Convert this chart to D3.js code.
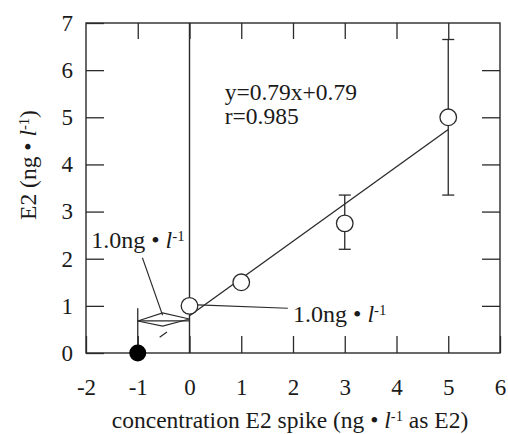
<!DOCTYPE html>
<html>
<head>
<meta charset="utf-8">
<script src="https://cdn.jsdelivr.net/npm/d3@7"></script>
<style>
body { margin: 0; background: #fff; }
svg text { font-family: "Liberation Serif", "Times New Roman", Times, "DejaVu Serif", serif; fill: #1a1a1a; }
</style>
</head>
<body>
<div id="chart"></div>
<script>
// standard addition: measured E2 against spiked E2
const spikeLevels = [0, 1, 3, 5];
const measuredE2 = [1.0, 1.5, 2.75, 5.0];
const errLow  = [null, null, 2.2, 3.35];
const errHigh = [null, null, 3.35, 6.65];
const xTicks = [-2, -1, 0, 1, 2, 3, 4, 5, 6];
const yTicks = [0, 1, 2, 3, 4, 5, 6, 7];
const slope = 0.79, intercept = 0.79;
const rValue = 0.985;
const estimated = [{x: -1, y: 0}];
// little diamond marking the 1.0 ng/l gap between -1 and 0
const gapMarker = [[-1, 0.68], [-0.52, 0.85], [0, 0.72], [-0.52, 0.57], [-1, 0.68]];

const serif = "'Liberation Serif', 'Times New Roman', Times, 'DejaVu Serif', serif";

const margin = {top: 23, right: 8, bottom: 81, left: 86};
const width = 508 - margin.left - margin.right;
const height = 434 - margin.top - margin.bottom;

const svg = d3.select("#chart").append("svg")
  .attr("width", 508)
  .attr("height", 434)
  .attr("font-family", serif);

const g = svg.append("g")
  .attr("transform", `translate(${margin.left},${margin.top})`);

const x = d3.scaleLinear().domain([-2, 6]).range([0, width]);
const y = d3.scaleLinear().domain([0, 7]).range([height, 0]);

const ink = "#2a2a2a";

// axes, ticks pointing inward on all four sides
const axBottom = g.append("g")
  .attr("transform", `translate(0,${height})`)
  .call(d3.axisBottom(x).tickValues(xTicks).tickSize(-17).tickPadding(26).tickFormat(d => String(d)));
const axTop = g.append("g")
  .call(d3.axisTop(x).tickValues(xTicks.slice(1, -1)).tickSize(-16).tickFormat(""));
const axLeft = g.append("g")
  .call(d3.axisLeft(y).tickValues(yTicks).tickSize(-18).tickPadding(13).tickFormat(d => String(d)));
const axRight = g.append("g")
  .attr("transform", `translate(${width},0)`)
  .call(d3.axisRight(y).tickValues(yTicks.slice(1, -1)).tickSize(-18).tickFormat(""));

[axBottom, axTop, axLeft, axRight].forEach(a => {
  a.attr("font-size", 23).attr("font-family", serif);
  a.select(".domain").remove();
  a.selectAll("line").attr("stroke", ink).attr("stroke-width", 1.3);
  a.selectAll("text").attr("fill", "#1a1a1a");
});

g.append("rect")
  .attr("width", width)
  .attr("height", height)
  .attr("fill", "none")
  .attr("stroke", ink)
  .attr("stroke-width", 1.4);

// vertical line at zero spike
g.append("line")
  .attr("x1", x(0)).attr("x2", x(0))
  .attr("y1", 0).attr("y2", height)
  .attr("stroke", ink).attr("stroke-width", 1.4);

// marker at x = -1
g.append("line")
  .attr("x1", x(-1)).attr("x2", x(-1))
  .attr("y1", y(0)).attr("y2", y(0.95))
  .attr("stroke", ink).attr("stroke-width", 1.3);
g.append("line")
  .attr("x1", x(-1)).attr("x2", x(0))
  .attr("y1", y(0.68)).attr("y2", y(0.68))
  .attr("stroke", ink).attr("stroke-width", 1.2);
g.append("path")
  .attr("d", d3.line().x(d => x(d[0])).y(d => y(d[1]))(gapMarker))
  .attr("fill", "none")
  .attr("stroke", ink).attr("stroke-width", 1.1);

// fitted line and its dashed extrapolation
const fit = d3.line().x(d => x(d)).y(d => y(slope * d + intercept));
g.append("path")
  .attr("d", fit([0, 5]))
  .attr("fill", "none")
  .attr("stroke", ink).attr("stroke-width", 1.3);
g.append("path")
  .attr("d", fit([-1, 0]))
  .attr("fill", "none")
  .attr("stroke", ink).attr("stroke-width", 1.2)
  .attr("stroke-dasharray", "0 27 9 100");

// error bars
const points = spikeLevels.map((s, i) => ({x: s, y: measuredE2[i], lo: errLow[i], hi: errHigh[i]}));
const bars = g.selectAll(".err")
  .data(points.filter(d => d.lo != null))
  .enter().append("g")
  .attr("class", "err")
  .attr("stroke", ink).attr("stroke-width", 1.3);
bars.append("line")
  .attr("x1", d => x(d.x)).attr("x2", d => x(d.x))
  .attr("y1", d => y(d.lo)).attr("y2", d => y(d.hi));
bars.append("line")
  .attr("x1", d => x(d.x) - 6).attr("x2", d => x(d.x) + 6)
  .attr("y1", d => y(d.lo)).attr("y2", d => y(d.lo));
bars.append("line")
  .attr("x1", d => x(d.x) - 6).attr("x2", d => x(d.x) + 6)
  .attr("y1", d => y(d.hi)).attr("y2", d => y(d.hi));

// points
g.selectAll(".pt")
  .data(points)
  .enter().append("circle")
  .attr("class", "pt")
  .attr("cx", d => x(d.x))
  .attr("cy", d => y(d.y))
  .attr("r", 8.3)
  .attr("fill", "#fff")
  .attr("stroke", ink).attr("stroke-width", 1.3);

g.selectAll(".est")
  .data(estimated)
  .enter().append("circle")
  .attr("class", "est")
  .attr("cx", d => x(d.x))
  .attr("cy", d => y(d.y))
  .attr("r", 8.5)
  .attr("fill", "#000");

// text with "ng • l^-1"
function unitLabel(t, before, after) {
  t.append("tspan").text(before);
  t.append("tspan").attr("font-style", "italic").text("l");
  t.append("tspan").attr("dy", "-0.45em").attr("font-size", "0.62em").text("-1");
  if (after) t.append("tspan").attr("dy", "0.28em").text(after);
}

// callouts
g.append("line")
  .attr("x1", x(-0.91)).attr("y1", y(2.02))
  .attr("x2", x(-0.52)).attr("y2", y(0.8))
  .attr("stroke", ink).attr("stroke-width", 1.1);
g.append("line")
  .attr("x1", x(0.16)).attr("y1", y(1.02))
  .attr("x2", x(1.9)).attr("y2", y(0.95))
  .attr("stroke", ink).attr("stroke-width", 1.1);

unitLabel(g.append("text").attr("x", x(-1.9)).attr("y", y(2.23)).attr("font-size", 24), "1.0ng • ");
unitLabel(g.append("text").attr("x", x(2.0)).attr("y", y(0.66)).attr("font-size", 24), "1.0ng • ");

g.append("text")
  .attr("x", x(0.68)).attr("y", y(5.37))
  .attr("font-size", 23.5)
  .text(`y=${slope}x+${intercept}`);
g.append("text")
  .attr("x", x(0.68)).attr("y", y(4.85))
  .attr("font-size", 23.5)
  .text(`r=${rValue}`);

// axis titles
unitLabel(svg.append("text")
  .attr("x", 290).attr("y", 428)
  .attr("font-size", 23.5)
  .attr("text-anchor", "middle"), "concentration E2 spike (ng • ", " as E2)");

unitLabel(svg.append("text")
  .attr("transform", "translate(36,165) rotate(-90)")
  .attr("font-size", 23.5)
  .attr("text-anchor", "middle"), "E2 (ng • ", ")");
</script>
</body>
</html>
